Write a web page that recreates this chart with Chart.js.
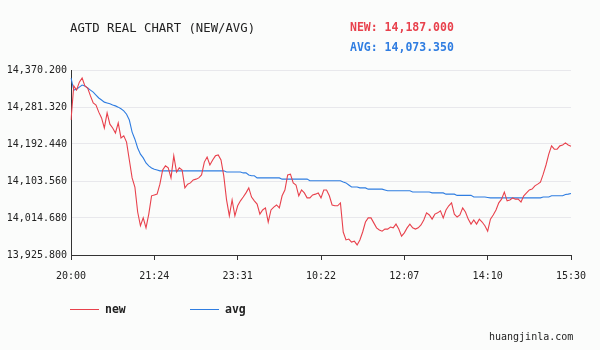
<!DOCTYPE html>
<html>
<head>
<meta charset="utf-8">
<script src="https://cdn.jsdelivr.net/npm/chart.js@4/dist/chart.umd.min.js"></script>
<style>
  html, body { margin: 0; padding: 0; background: #fbfcfb; }
  #wrap { position: relative; width: 600px; height: 350px; overflow: hidden; font-family: 'DejaVu Sans Mono', monospace; }
  #agtdChart { position: absolute; left: 0; top: 0; }
  .txt { position: absolute; white-space: pre; line-height: 1; }
  #title { left: 70px; top: 22px; font-size: 12.3px; color: #222; }
  #newVal { left: 350px; top: 22px; font-size: 11.5px; font-weight: bold; color: #e8414c; }
  #avgVal { left: 350px; top: 42px; font-size: 11.5px; font-weight: bold; color: #2f7de1; }
  .lg-line { position: absolute; height: 0; width: 29px; top: 309px; }
  #lgNew { left: 70px; border-top: 1px solid #e8414c; }
  #lgAvg { left: 190px; border-top: 1px solid #2f7de1; }
  .lg-text { top: 304px; font-size: 11.5px; font-weight: bold; color: #222; }
  #site { left: 489px; top: 332px; font-size: 10px; color: #222; }
</style>
</head>
<body>
<div id="wrap">
  <canvas id="agtdChart" width="600" height="350"></canvas>
  <div class="txt" id="title">AGTD REAL CHART (NEW/AVG)</div>
  <div class="txt" id="newVal">NEW: 14,187.000</div>
  <div class="txt" id="avgVal">AVG: 14,073.350</div>
  <div class="lg-line" id="lgNew"></div>
  <div class="txt lg-text" style="left:105px;">new</div>
  <div class="lg-line" id="lgAvg"></div>
  <div class="txt lg-text" style="left:225px;">avg</div>
  <div class="txt" id="site">huangjinla.com</div>
</div>
<script>
const timeTicks = ['20:00', '21:24', '23:31', '10:22', '12:07', '14:10', '15:30'];
const yTicks = [13925.8, 14014.68, 14103.56, 14192.44, 14281.32, 14370.2];

const newSeries = [
  14250, 14332, 14322, 14341, 14351, 14332, 14327, 14308, 14291, 14286,
  14269, 14255, 14231, 14267, 14240, 14231, 14219, 14243, 14207, 14212,
  14197, 14154, 14111, 14089, 14029, 13996, 14015, 13991, 14024, 14068,
  14070, 14072, 14096, 14130, 14140, 14135, 14111, 14164, 14125, 14135,
  14130, 14087, 14096, 14099, 14106, 14108, 14111, 14118, 14149, 14161,
  14142, 14154, 14164, 14166, 14154, 14116, 14058, 14020, 14058, 14020,
  14044, 14056, 14065, 14075, 14087, 14065, 14056, 14048, 14024, 14034,
  14039, 14005, 14034, 14041, 14046, 14039, 14068, 14082, 14118, 14120,
  14099, 14094, 14068, 14082, 14075, 14063, 14063, 14070, 14072, 14075,
  14063, 14082, 14082, 14068, 14046, 14044, 14044, 14051, 13981, 13962,
  13964, 13957, 13959, 13950, 13962, 13981, 14005, 14015, 14015, 14003,
  13991, 13986, 13983, 13988, 13988, 13993, 13991, 14000, 13988, 13971,
  13979, 13991, 14000, 13991, 13988, 13991, 13998, 14010, 14027, 14022,
  14012, 14024, 14027, 14032, 14015, 14034, 14044, 14051, 14024, 14017,
  14022, 14039, 14029, 14012, 14000, 14010, 14000, 14012, 14005, 13996,
  13983, 14012, 14022, 14034, 14051, 14060, 14077, 14056, 14058, 14063,
  14060, 14060, 14053, 14068, 14075, 14082, 14084, 14092, 14096, 14101,
  14120, 14142, 14168, 14188, 14180, 14180, 14188, 14190, 14195, 14190,
  14187
];

const avgSeries = [
  14351, 14322, 14324, 14329, 14334, 14332, 14327, 14322, 14317, 14310,
  14303, 14298, 14293, 14291, 14289, 14286, 14284, 14281, 14277, 14272,
  14264, 14250, 14221, 14204, 14183, 14168, 14159, 14147, 14140, 14135,
  14132, 14130, 14128, 14128, 14128, 14128, 14128, 14128, 14128, 14128,
  14128, 14128, 14128, 14128, 14128, 14128, 14128, 14128, 14128, 14128,
  14128, 14128, 14128, 14128, 14128, 14128, 14125, 14125, 14125, 14125,
  14125, 14125, 14123, 14123, 14118, 14116, 14116, 14111, 14111, 14111,
  14111, 14111, 14111, 14111, 14111, 14111, 14108, 14108, 14108, 14108,
  14108, 14108, 14108, 14108, 14108, 14108, 14104, 14104, 14104, 14104,
  14104, 14104, 14104, 14104, 14104, 14104, 14104, 14104, 14101, 14099,
  14094, 14089, 14089, 14089, 14087, 14087, 14087, 14084, 14084, 14084,
  14084, 14084, 14084, 14082, 14080, 14080, 14080, 14080, 14080, 14080,
  14080, 14080, 14080, 14077, 14077, 14077, 14077, 14077, 14077, 14077,
  14075, 14075, 14075, 14075, 14075, 14072, 14072, 14072, 14072, 14069,
  14069, 14069, 14069, 14069, 14069, 14065, 14065, 14065, 14065, 14065,
  14064, 14063, 14063, 14063, 14063, 14063, 14063, 14063, 14063, 14063,
  14063, 14063, 14063, 14063, 14063, 14063, 14063, 14063, 14063, 14063,
  14065, 14065, 14065, 14068, 14068, 14068, 14068, 14068, 14071, 14072,
  14073.35
];

// one x label every 30 points, the rest stay blank
const tickEvery = 30;
const xLabels = newSeries.map((_, i) => (i % tickEvery === 0 ? timeTicks[i / tickEvery] : ''));

const fmt = v => v.toLocaleString('en-US', { minimumFractionDigits: 3, maximumFractionDigits: 3 });

new Chart(document.getElementById('agtdChart'), {
  type: 'line',
  data: {
    labels: xLabels,
    datasets: [
      { label: 'new', data: newSeries, borderColor: '#e8414c', borderWidth: 1.1, pointRadius: 0, tension: 0 },
      { label: 'avg', data: avgSeries, borderColor: '#2f7de1', borderWidth: 1.1, pointRadius: 0, tension: 0 }
    ]
  },
  options: {
    responsive: false,
    animation: false,
    devicePixelRatio: 1,
    layout: { padding: { top: 70, right: 29, left: 0, bottom: 0 } },
    plugins: { legend: { display: false }, title: { display: false }, tooltip: { enabled: false } },
    scales: {
      x: {
        type: 'category',
        offset: false,
        afterFit: s => { s.height = 95; },
        border: { display: true, color: '#333' },
        grid: { drawOnChartArea: false, drawTicks: true, tickLength: 5, tickColor: '#333' },
        ticks: {
          autoSkip: false,
          maxRotation: 0,
          padding: 10,
          color: '#222',
          font: { family: 'DejaVu Sans Mono', size: 10 },
          callback: (v, i) => xLabels[i] || null
        }
      },
      y: {
        min: 13925.8,
        max: 14370.2,
        afterFit: s => { s.width = 71; },
        afterBuildTicks: s => { s.ticks = yTicks.map(v => ({ value: v })); },
        border: { display: true, color: '#333' },
        grid: { color: '#e8e8ec', drawTicks: false },
        ticks: {
          padding: 4,
          color: '#222',
          font: { family: 'DejaVu Sans Mono', size: 10 },
          callback: v => fmt(v)
        }
      }
    }
  }
});
</script>
</body>
</html>
